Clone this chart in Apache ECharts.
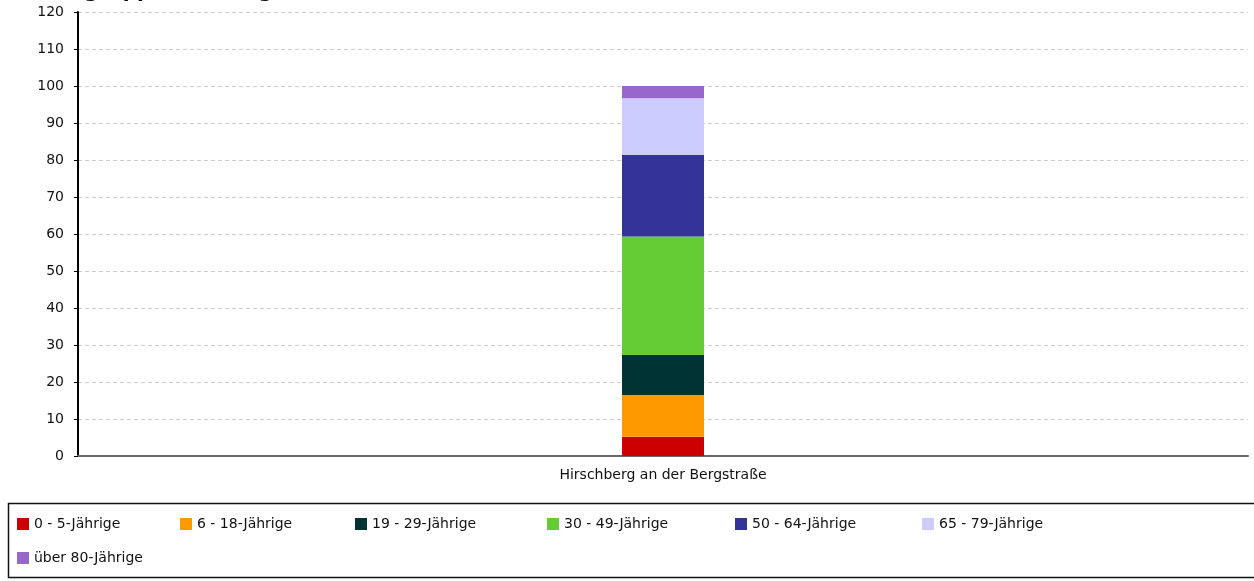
<!DOCTYPE html>
<html>
<head>
<meta charset="utf-8">
<script src="https://cdn.jsdelivr.net/npm/echarts@6/dist/echarts.min.js"></script>
<style>html,body{margin:0;padding:0;background:#fff;}#c{width:1254px;height:581px;}</style>
</head>
<body>
<div id="c"></div>
<script>
var categories = ['Hirschberg an der Bergstraße'];
var seriesNames = ['0 - 5-Jährige','6 - 18-Jährige','19 - 29-Jährige','30 - 49-Jährige','50 - 64-Jährige','65 - 79-Jährige','über 80-Jährige'];
var seriesValues = [[5.2],[11.3],[10.8],[32.0],[22.1],[15.3],[3.3]];
var seriesColors = ['#cc0000','#ff9900','#003333','#66cc33','#333399','#ccccff','#9966cc'];
var yTicks = [0,10,20,30,40,50,60,70,80,90,100,110,120];

var legendPos = [[17,517],[180,517],[355,517],[547,517],[735,517],[922,517],[17,551]];

var chart = echarts.init(document.getElementById('c'));
var legends = seriesNames.map(function(n,i){
  return {
    data:[n], left: legendPos[i][0], top: legendPos[i][1],
    itemWidth: 12, itemHeight: 12, itemGap: 0, padding: 0,
    icon: 'rect',
    textStyle:{fontFamily:'DejaVu Sans', fontSize:14, color:'#111', padding:[0,0,0,0]},
    selectedMode:false
  };
});
var option = {
  animation:false,
  title:{text:'Altersgruppen im Vergleich (%)', left: 12, top: -23,
    textStyle:{fontFamily:'DejaVu Sans', fontWeight:'bold', fontSize:20, color:'#000'}},
  grid:{left:78, right:6, top:12, bottom:125, containLabel:false},
  legend: legends,
  graphic:[{type:'rect', shape:{x:8.5,y:503.5,width:1260,height:74}, style:{fill:'none', stroke:'#111', lineWidth:1.5}}],
  xAxis:{type:'category', data:categories,
    axisLine:{lineStyle:{color:'#666', width:2}},
    axisTick:{show:false},
    axisLabel:{fontFamily:'DejaVu Sans', fontSize:14, color:'#111', margin:12}},
  yAxis:{type:'value', min:yTicks[0], max:yTicks[yTicks.length-1], interval:10,
    axisLine:{show:true, lineStyle:{color:'#000', width:2}},
    axisTick:{show:true, length:4, lineStyle:{color:'#000'}},
    axisLabel:{fontFamily:'DejaVu Sans', fontSize:14, color:'#111', margin:14},
    splitLine:{show:true, lineStyle:{color:'#ccc', type:[4,3], width:1}}},
  series: seriesNames.map(function(n,i){
    return {name:n, type:'bar', stack:'total', data:seriesValues[i], barWidth:82,
      itemStyle:{color:seriesColors[i]}, emphasis:{disabled:true}};
  })
};
chart.setOption(option);
</script>
</body>
</html>
